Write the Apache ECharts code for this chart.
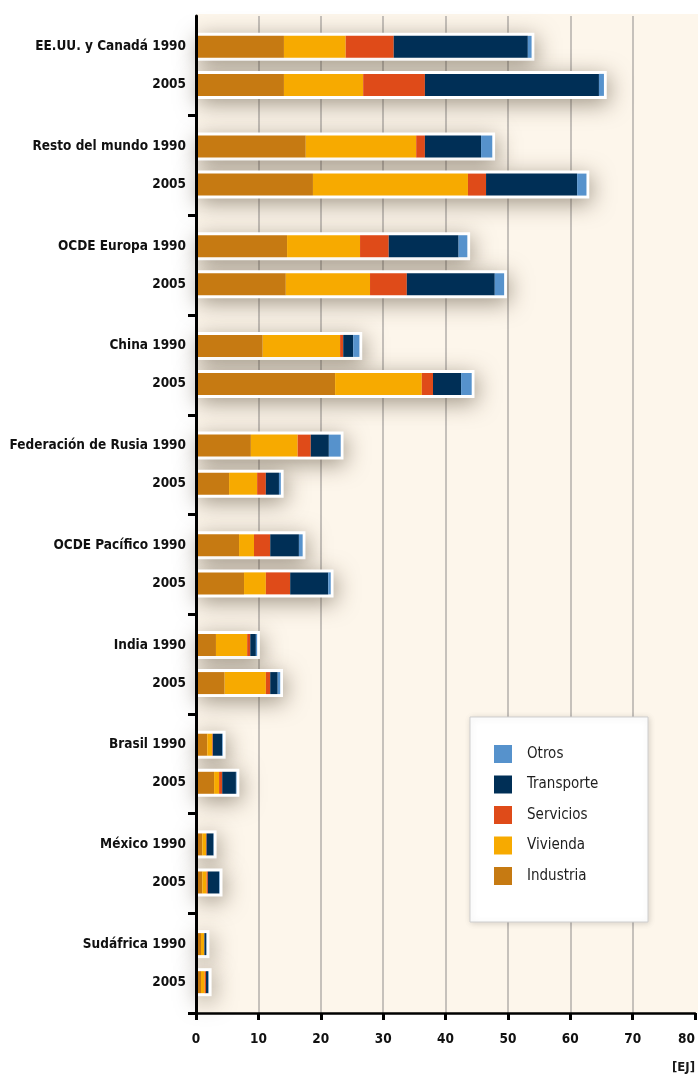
<!DOCTYPE html>
<html>
<head>
<meta charset="utf-8">
<script src="https://cdn.jsdelivr.net/npm/echarts@6/dist/echarts.min.js"></script>
<style>
html,body{margin:0;padding:0;background:#fff;}
#chart{width:698px;height:1081px;}
</style>
</head>
<body>
<div id="chart"></div>
<script>
var regions = ['EE.UU. y Canadá','Resto del mundo','OCDE Europa','China','Federación de Rusia','OCDE Pacífico','India','Brasil','México','Sudáfrica'];
var years = ['1990','2005'];
var sectorNames = ['Industria','Vivienda','Servicios','Transporte','Otros'];
var sectorColors = ['#c67a12','#f7aa00','#df4b19','#002f56','#5692cc'];

var industria1990  = [14.1, 17.6, 14.6, 10.7, 8.8, 6.9, 3.2, 1.8, 1.0, 0.8];
var vivienda1990   = [9.9, 17.7, 11.7, 12.4, 7.5, 2.4, 5.0, 0.8, 0.6, 0.5];
var servicios1990  = [7.7, 1.4, 4.6, 0.5, 2.1, 2.6, 0.5, 0.1, 0.1, 0.05];
var transporte1990 = [21.5, 9.0, 11.2, 1.6, 2.9, 4.6, 0.9, 1.5, 1.1, 0.3];
var otros1990      = [0.6, 1.8, 1.4, 1.0, 1.9, 0.6, 0.2, 0.1, 0.05, 0.05];

var industria2005  = [14.1, 18.75, 14.4, 22.3, 5.3, 7.7, 4.6, 2.9, 1.0, 0.8];
var vivienda2005   = [12.7, 24.85, 13.5, 13.9, 4.5, 3.5, 6.6, 0.8, 0.7, 0.6];
var servicios2005  = [9.9, 2.9, 5.9, 1.8, 1.4, 3.9, 0.7, 0.5, 0.2, 0.2];
var transporte2005 = [27.9, 14.6, 14.1, 4.5, 2.1, 6.1, 1.2, 2.2, 1.8, 0.35];
var otros2005      = [0.8, 1.5, 1.5, 1.7, 0.3, 0.4, 0.4, 0.1, 0.1, 0.1];

var xTicks = [0,10,20,30,40,50,60,70,80];
var unitLabel = '[EJ]';

var byYear = {
  '1990': [industria1990, vivienda1990, servicios1990, transporte1990, otros1990],
  '2005': [industria2005, vivienda2005, servicios2005, transporte2005, otros2005]
};

var FONT = "'DejaVu Sans Condensed','Liberation Sans Narrow',sans-serif";
var BW = 22, GAP = '73%';          // coloured bars: 22px, centres 38px apart
var FW = 28, FGAP = '36%';         // white frame: 3px wider on each side, same centres
var FRAME_PAD = 0.45;              // frame reaches ~3px past the bar end (axis units)

var series = [];
years.forEach(function (yr) {
  var arrs = byYear[yr];
  var totals = regions.map(function (r, i) {
    var s = 0; arrs.forEach(function (a) { s += a[i]; }); return s + FRAME_PAD;
  });
  series.push({
    name: 'marco ' + yr, type: 'bar', yAxisIndex: 1, data: totals,
    barWidth: FW, barGap: FGAP, z: 1, silent: true,
    itemStyle: { color: '#ffffff',
      shadowBlur: 22, shadowColor: 'rgba(70,55,35,0.5)', shadowOffsetX: 2, shadowOffsetY: 5 }
  });
});
years.forEach(function (yr) {
  var arrs = byYear[yr];
  sectorNames.forEach(function (nm, k) {
    series.push({
      name: nm, type: 'bar', stack: 's' + yr, yAxisIndex: 0, data: arrs[k],
      barWidth: BW, barGap: GAP, z: 2,
      itemStyle: { color: sectorColors[k] }
    });
  });
});

var chart = echarts.init(document.getElementById('chart'), null, { renderer: 'canvas' });
chart.setOption({
  animation: false,
  backgroundColor: '#ffffff',
  color: sectorColors,
  grid: { left: 196, right: 3, top: 16, bottom: 68, containLabel: false, outerBoundsMode: 'none' },
  graphic: [
    { type: 'rect', z: -100, silent: true,
      shape: { x: 196, y: 14, width: 502, height: 999 },
      style: { fill: '#fdf6eb' } },
    { type: 'rect', z: 3, silent: true,
      shape: { x: 470, y: 717, width: 178, height: 205 },
      style: { fill: '#ffffff', stroke: '#cfcfcf', lineWidth: 1,
        shadowBlur: 6, shadowColor: 'rgba(0,0,0,0.15)', shadowOffsetX: 1, shadowOffsetY: 1 } },
    { type: 'text', z: 5, silent: true, right: 3, top: 1061,
      style: { text: unitLabel, font: "bold 13px " + FONT, fill: '#1a1a1a' } }
  ],
  legend: {
    orient: 'vertical', left: 494, top: 745, padding: 0, z: 6,
    data: ['Otros','Transporte','Servicios','Vivienda','Industria'],
    icon: 'rect', itemWidth: 18, itemHeight: 18, itemGap: 12.5,
    textStyle: { fontFamily: FONT, fontSize: 15, color: '#1e1e1e', padding: [0,0,0,10] },
    selectedMode: false
  },
  xAxis: {
    type: 'value', min: 0, max: 80, interval: 10,
    axisLine: { show: true, lineStyle: { color: '#000', width: 2.5 } },
    axisTick: { show: true, length: 7, lineStyle: { color: '#000', width: 3 } },
    axisLabel: { margin: 19, fontFamily: FONT, fontWeight: 'bold', fontSize: 13.5, color: '#111',
      alignMaxLabel: 'right',
      formatter: function (v) { return xTicks.indexOf(v) >= 0 ? String(v) : ''; } },
    splitLine: { show: true, showMinLine: false, showMaxLine: false,
      lineStyle: { color: '#c6c1bb', width: 2 } }
  },
  yAxis: [
    {
      type: 'category', data: regions, inverse: true, z: 8,
      axisLine: { show: true, lineStyle: { color: '#000', width: 3 } },
      axisTick: { show: true, length: 8, interval: function (i) { return i !== 0 && i !== regions.length; },
        lineStyle: { color: '#000', width: 3 } },
      axisLabel: {
        margin: 10, align: 'right', interval: 0,
        formatter: function (v) { return v + ' ' + years[0] + '\n' + years[1]; },
        fontFamily: FONT, fontWeight: 'bold', fontSize: 13.5, color: '#111', lineHeight: 38
      },
      splitLine: { show: false }
    },
    {
      type: 'category', data: regions, inverse: true, show: false
    }
  ],
  series: series
});
</script>
</body>
</html>
